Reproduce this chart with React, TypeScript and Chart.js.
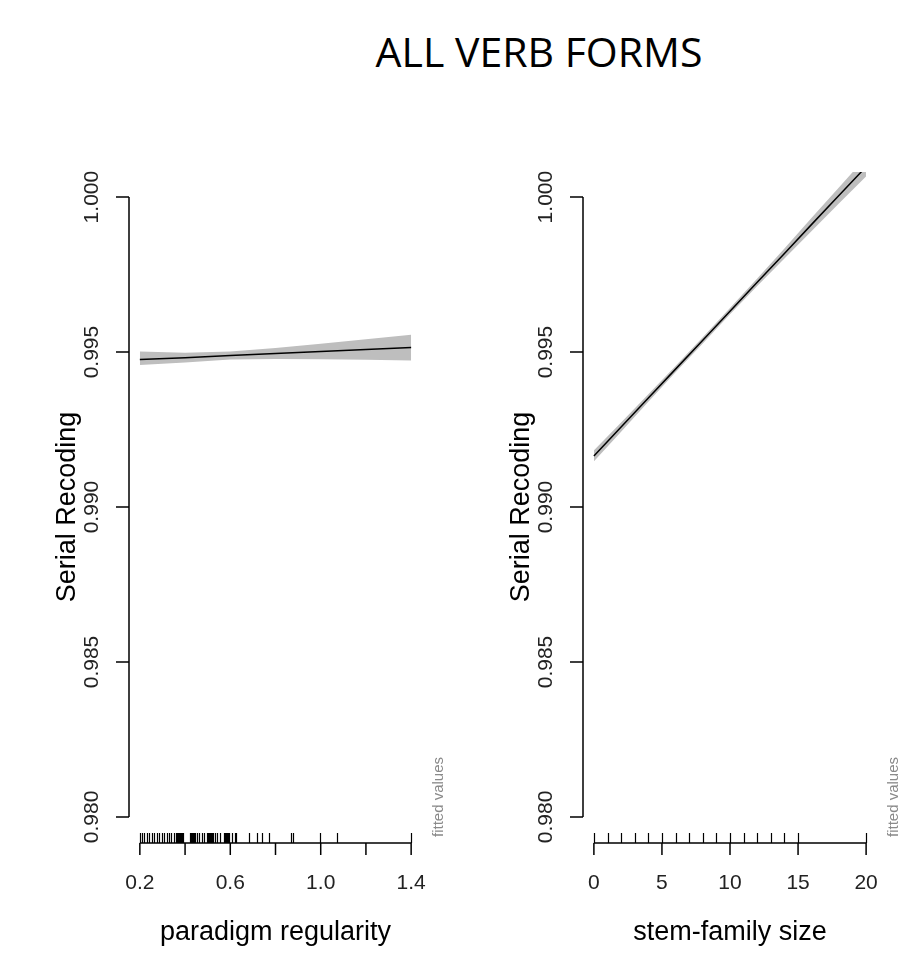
import React, { useEffect, useRef } from "react";
import { Chart, registerables } from "chart.js";

Chart.register(...registerables);

// ---------- shared ----------
const TITLE = "ALL VERB FORMS";
const Y_TITLE = "Serial Recoding";
const FITTED_LABEL = "fitted values";
const Y_TICKS = [0.98, 0.985, 0.99, 0.995, 1.0];
const Y_TICK_LABELS = ["0.980", "0.985", "0.990", "0.995", "1.000"];
const Y_MIN = 0.97916;
const Y_MAX = 1.00081;

// ---------- left panel: paradigm regularity ----------
const REG_TITLE = "paradigm regularity";
const regX = [0.2, 0.4, 0.6, 0.8, 1.0, 1.2, 1.4];
const regFit = [0.99476, 0.99482, 0.99489, 0.99495, 0.99502, 0.99508, 0.99515];
const regLower = [0.99458, 0.99466, 0.99476, 0.99478, 0.99477, 0.99475, 0.99473];
const regUpper = [0.99502, 0.99498, 0.99502, 0.99513, 0.99527, 0.99541, 0.99556];
const regTicks = [0.2, 0.4, 0.6, 0.8, 1.0, 1.2, 1.4];
const regTickLabels = ["0.2", "", "0.6", "", "1.0", "", "1.4"];
const regRug = [
  0.2, 0.209, 0.218, 0.23, 0.241, 0.253, 0.262, 0.274, 0.286, 0.297, 0.309, 0.318, 0.33, 0.339,
  0.351, 0.362, 0.366, 0.37, 0.374, 0.378, 0.382, 0.386, 0.39, 0.421, 0.426, 0.431, 0.436, 0.441,
  0.446, 0.451, 0.463, 0.473, 0.483, 0.498, 0.502, 0.506, 0.51, 0.514, 0.518, 0.522, 0.532, 0.542,
  0.554, 0.572, 0.576, 0.58, 0.584, 0.588, 0.592, 0.596, 0.607, 0.619, 0.627, 0.683, 0.717, 0.742,
  0.771, 0.869, 0.879, 0.999, 1.071, 1.4,
];

// ---------- right panel: stem-family size ----------
const SF_TITLE = "stem-family size";
const sfX = [0, 2, 4, 6, 8, 10, 12, 14, 16, 18, 20];
const sfFit = [0.99165, 0.99258, 0.99352, 0.99445, 0.99538, 0.99632, 0.99725, 0.99818, 0.99912, 1.00005, 1.00098];
const sfLower = [0.99147, 0.99243, 0.9934, 0.99435, 0.99528, 0.99622, 0.99713, 0.99802, 0.99891, 0.99979, 1.00067];
const sfUpper = [0.99183, 0.99273, 0.99364, 0.99455, 0.99548, 0.99642, 0.99737, 0.99834, 0.99933, 1.00031, 1.00129];
const sfTicks = [0, 5, 10, 15, 20];
const sfTickLabels = ["0", "5", "10", "15", "20"];
const sfRug = [0, 1, 2, 3, 4, 5, 6, 7, 8, 9, 10, 11, 12, 13, 14, 15, 20];

const FONT = '"Liberation Sans", Arial, Helvetica, sans-serif';
const BAND = "#bebebe";

type PanelCfg = {
  xs: number[];
  fit: number[];
  lower: number[];
  upper: number[];
  xMin: number;
  xMax: number;
  ticks: number[];
  tickLabels: string[];
  rug: number[];
  xTitle: string;
  padding: { left: number; right: number; top: number; bottom: number };
};

function pts(xs: number[], ys: number[]) {
  return xs.map((x, i) => ({ x, y: ys[i] }));
}

function makeAxesPlugin(cfg: PanelCfg) {
  return {
    id: "rAxes",
    afterDraw(chart: any) {
      const ctx: CanvasRenderingContext2D = chart.ctx;
      const xs = chart.scales.x;
      const ys = chart.scales.y;
      const a = chart.chartArea;
      ctx.save();
      ctx.strokeStyle = "#000";
      ctx.lineWidth = 1.5;

      // y axis
      const yTop = ys.getPixelForValue(Y_TICKS[Y_TICKS.length - 1]);
      const yBot = ys.getPixelForValue(Y_TICKS[0]);
      ctx.beginPath();
      ctx.moveTo(a.left, yTop);
      ctx.lineTo(a.left, yBot);
      for (const t of Y_TICKS) {
        const py = ys.getPixelForValue(t);
        ctx.moveTo(a.left, py);
        ctx.lineTo(a.left - 13, py);
      }
      ctx.stroke();

      // x axis
      const xL = xs.getPixelForValue(cfg.ticks[0]);
      const xR = xs.getPixelForValue(cfg.ticks[cfg.ticks.length - 1]);
      ctx.beginPath();
      ctx.moveTo(xL, a.bottom);
      ctx.lineTo(xR, a.bottom);
      for (const t of cfg.ticks) {
        const px = xs.getPixelForValue(t);
        ctx.moveTo(px, a.bottom);
        ctx.lineTo(px, a.bottom + 12);
      }
      ctx.stroke();

      // rug
      ctx.lineWidth = 1.2;
      ctx.beginPath();
      for (const r of cfg.rug) {
        const px = Math.round(xs.getPixelForValue(r)) + 0.5;
        ctx.moveTo(px, a.bottom);
        ctx.lineTo(px, a.bottom - 10);
      }
      ctx.stroke();

      // y tick labels
      ctx.fillStyle = "#222";
      ctx.font = `21px ${FONT}`;
      ctx.textAlign = "center";
      ctx.textBaseline = "middle";
      Y_TICKS.forEach((t, i) => {
        const py = ys.getPixelForValue(t);
        ctx.save();
        ctx.translate(a.left - 37, py);
        ctx.rotate(-Math.PI / 2);
        ctx.fillText(Y_TICK_LABELS[i], 0, 0);
        ctx.restore();
      });

      // x tick labels
      cfg.ticks.forEach((t, i) => {
        if (!cfg.tickLabels[i]) return;
        const px = xs.getPixelForValue(t);
        ctx.fillText(cfg.tickLabels[i], px, a.bottom + 40);
      });

      // axis titles
      ctx.fillStyle = "#000";
      ctx.font = `27px ${FONT}`;
      ctx.fillText(cfg.xTitle, (xL + xR) / 2, a.bottom + 90);
      ctx.save();
      ctx.translate(a.left - 61, (yTop + yBot) / 2);
      ctx.rotate(-Math.PI / 2);
      ctx.fillText(Y_TITLE, 0, 0);
      ctx.restore();

      // fitted values
      ctx.fillStyle = "#8a8a8a";
      ctx.font = `15px ${FONT}`;
      ctx.save();
      ctx.translate(a.right + 17, yBot - 20);
      ctx.rotate(-Math.PI / 2);
      ctx.fillText(FITTED_LABEL, 0, 0);
      ctx.restore();

      ctx.restore();
    },
  };
}

function Panel({ cfg, left, width }: { cfg: PanelCfg; left: number; width: number }) {
  const ref = useRef<HTMLCanvasElement | null>(null);
  useEffect(() => {
    if (!ref.current) return;
    const chart = new Chart(ref.current, {
      type: "line",
      data: {
        datasets: [
          {
            data: pts(cfg.xs, cfg.lower),
            borderWidth: 0,
            pointRadius: 0,
            fill: false,
            backgroundColor: BAND,
            borderColor: BAND,
            order: 3,
          },
          {
            data: pts(cfg.xs, cfg.upper),
            borderWidth: 0,
            pointRadius: 0,
            fill: "-1",
            backgroundColor: BAND,
            borderColor: BAND,
            order: 2,
          },
          {
            data: pts(cfg.xs, cfg.fit),
            borderWidth: 1.5,
            pointRadius: 0,
            fill: false,
            borderColor: "#000",
            order: 0,
          },
        ],
      },
      options: {
        animation: false,
        responsive: false,
        devicePixelRatio: 1,
        layout: { padding: cfg.padding },
        scales: {
          x: { type: "linear", min: cfg.xMin, max: cfg.xMax, display: false },
          y: { type: "linear", min: Y_MIN, max: Y_MAX, display: false },
        },
        plugins: { legend: { display: false }, tooltip: { enabled: false }, title: { display: false } },
      },
      plugins: [makeAxesPlugin(cfg)],
    } as any);
    return () => chart.destroy();
  }, [cfg]);
  return (
    <canvas
      ref={ref}
      width={width}
      height={966}
      style={{ position: "absolute", left, top: 0, width, height: 966 }}
    />
  );
}

const leftCfg: PanelCfg = {
  xs: regX,
  fit: regFit,
  lower: regLower,
  upper: regUpper,
  xMin: 0.152,
  xMax: 1.448,
  ticks: regTicks,
  tickLabels: regTickLabels,
  rug: regRug,
  xTitle: REG_TITLE,
  padding: { left: 129, right: 28, top: 172, bottom: 123 },
};

const rightCfg: PanelCfg = {
  xs: sfX,
  fit: sfFit,
  lower: sfLower,
  upper: sfUpper,
  xMin: -0.8,
  xMax: 20.8,
  ticks: sfTicks,
  tickLabels: sfTickLabels,
  rug: sfRug,
  xTitle: SF_TITLE,
  padding: { left: 133, right: 22, top: 172, bottom: 123 },
};

export default function App() {
  return (
    <div style={{ position: "absolute", left: 0, top: 0, width: 899, height: 966, background: "#fff", overflow: "hidden" }}>
      <div
        style={{
          position: "absolute",
          left: 289,
          top: 31,
          width: 500,
          textAlign: "center",
          fontFamily: '"Open Sans", sans-serif',
          fontSize: 41,
          lineHeight: "41px",
          color: "#000",
        }}
      >
        {TITLE}
      </div>
      <Panel cfg={leftCfg} left={0} width={450} />
      <Panel cfg={rightCfg} left={450} width={449} />
    </div>
  );
}
